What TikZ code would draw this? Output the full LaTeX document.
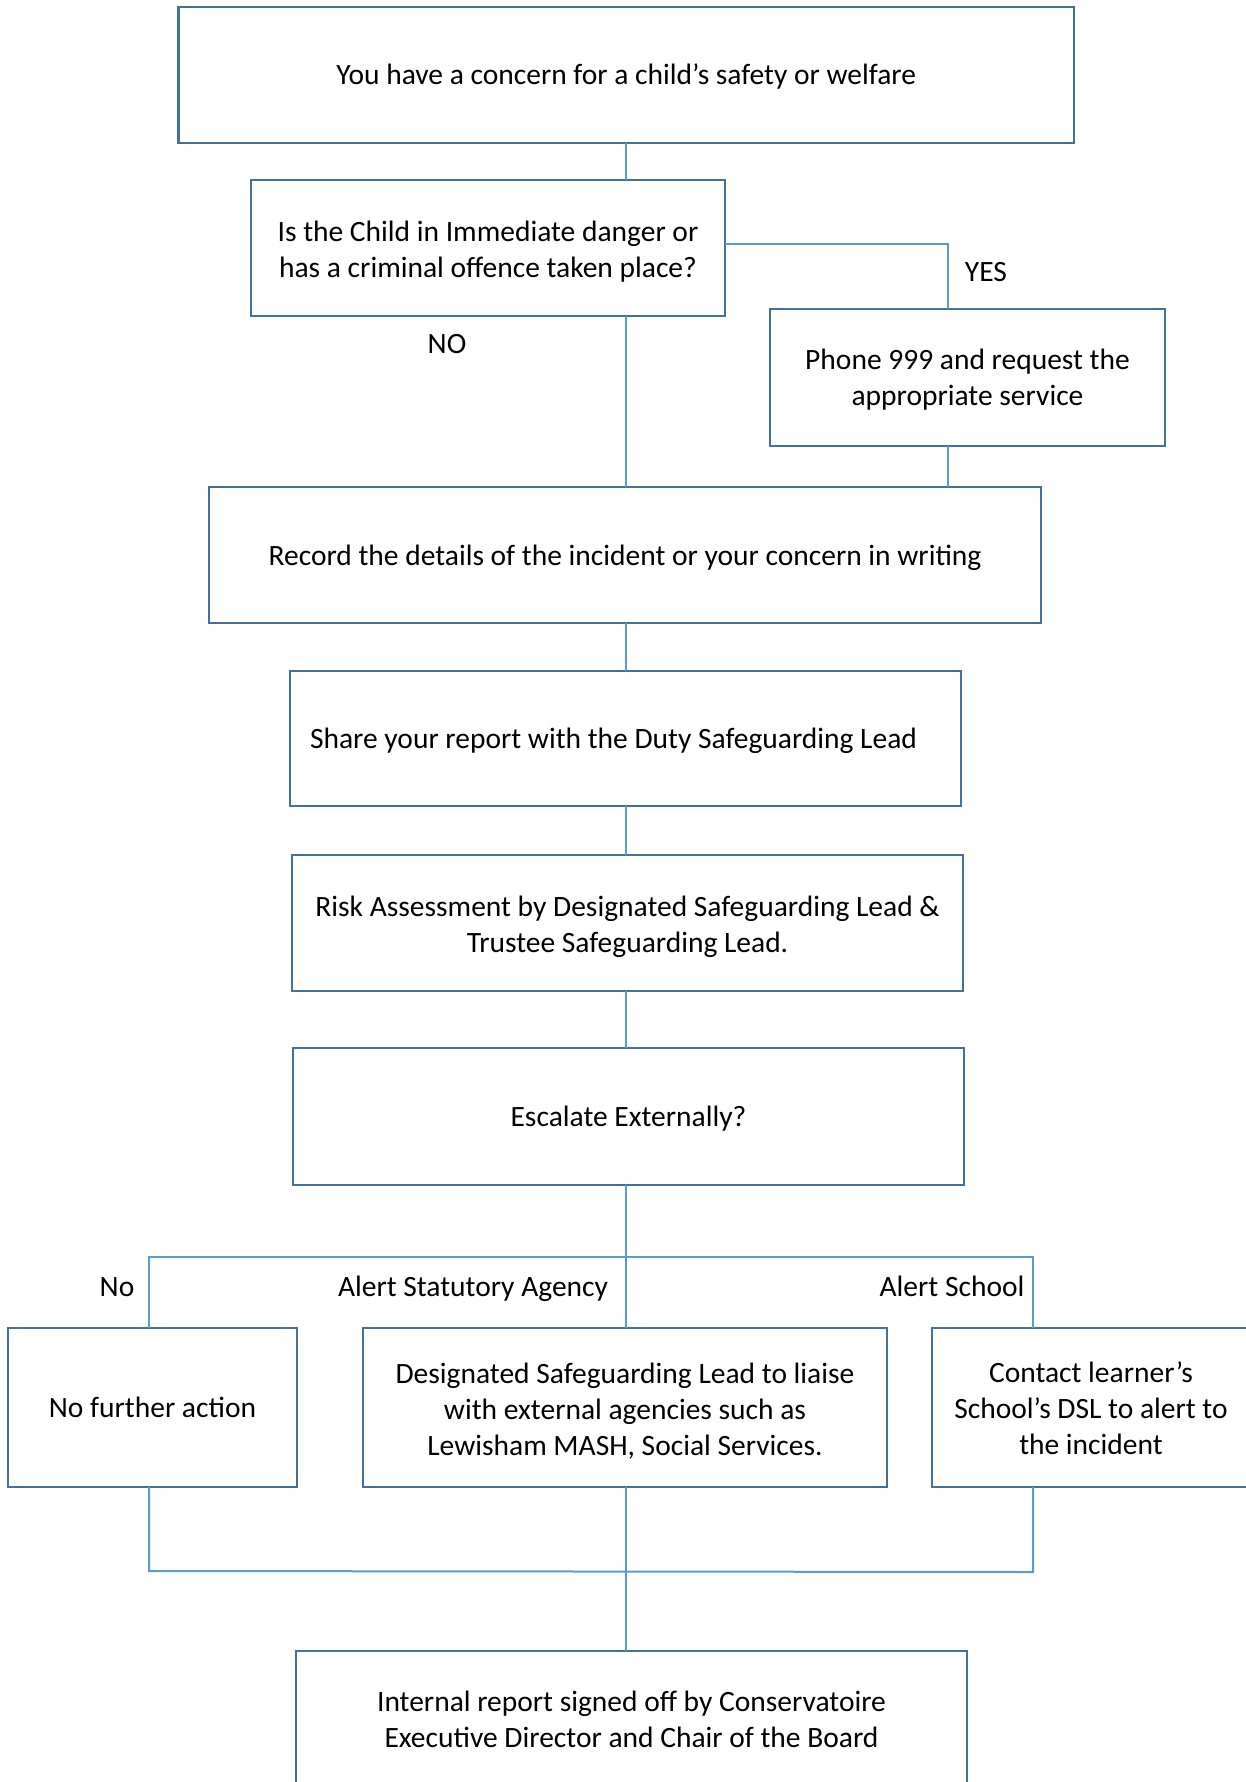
\documentclass[tikz,border=0pt]{standalone}
\usepackage{fontspec}
\setmainfont{Carlito}
\definecolor{boxblue}{HTML}{41719C}
\definecolor{linkblue}{HTML}{5B9BD5}
\newcommand{\flowfont}{\fontsize{29.5}{36}\selectfont}
\begin{document}
\begin{tikzpicture}[x=1pt,y=-1pt,
  box/.style={draw=boxblue, line width=2.5pt, inner sep=0pt, outer sep=0pt, align=center, font=\flowfont},
  lowtext/.style={execute at begin node={\rule{0pt}{27pt}}, execute at end node={\rule[-7pt]{0pt}{7pt}}},
  boxtext/.style={inner sep=0pt, align=center, font=\flowfont},
  link/.style={draw=linkblue, line width=2pt},
  lbl/.style={inner sep=0pt, font=\flowfont, text height=21pt, text depth=7pt}]
\clip (0,0) rectangle (1246,1782);
\fill[white] (0,0) rectangle (1246,1782);

\node[box, lowtext, minimum width=895.5pt, minimum height=136pt] (concern) at (626.25,75) {You have a concern for a child’s safety or welfare};
\node[box, minimum width=474pt, minimum height=136pt,
  label={[boxtext, name=dangertext, yshift=-3.4pt]center:Is the Child in Immediate danger or\\has a criminal offence taken place?}] (danger) at (488,248) {};
\node[box, minimum width=395pt, minimum height=137pt,
  label={[boxtext, name=phonetext, yshift=-2.3pt]center:Phone 999 and request the\\appropriate service}] (phone) at (967.5,377.5) {};
\node[box, lowtext, minimum width=832pt, minimum height=136pt] (record) at (625,555) {Record the details of the incident or your concern in writing};
\node[box, lowtext, minimum width=671pt, minimum height=135pt, inner xsep=20pt, text width=631pt, align=flush left] (share) at (625.5,738.5) {Share your report with the Duty Safeguarding Lead};
\node[box, minimum width=671pt, minimum height=136pt,
  label={[boxtext, name=risktext, yshift=-3.4pt]center:Risk Assessment by Designated Safeguarding Lead \&\\Trustee Safeguarding Lead.}] (risk) at (627.5,923) {};
\node[box, lowtext, minimum width=671pt, minimum height=137pt] (escalate) at (628.5,1116.5) {Escalate Externally?};
\node[box, lowtext, minimum width=289pt, minimum height=159pt] (nfa) at (152.5,1407.5) {No further action};
\node[box, minimum width=524pt, minimum height=159pt,
  label={[boxtext, name=dsltext, yshift=-3.4pt]center:Designated Safeguarding Lead to liaise\\with external agencies such as\\Lewisham MASH, Social Services.}] (dsl) at (625,1407.5) {};
\node[box, minimum width=318pt, minimum height=159pt,
  label={[boxtext, name=schooltext, yshift=-1.1pt]center:Contact learner’s\\School’s DSL to alert to\\the incident}] (school) at (1091,1407.5) {};
\node[box, minimum width=671pt, minimum height=137pt] (internal) at (631.5,1719.5) {Internal report signed off by Conservatoire\\Executive Director and Chair of the Board};

\coordinate (spine) at (626,0);
\coordinate (yesc) at (948,244);
\coordinate (bl) at (149,1257);
\coordinate (br) at (1033,1257);
\coordinate (ml) at (149,1571);
\coordinate (mr) at (1033,1572);

\draw[link] (spine |- concern.south) -- (spine |- danger.north);
\draw[link] (spine |- danger.south) -- (spine |- record.north);
\draw[link] (danger.east |- yesc) -- (yesc) -- (yesc |- phone.north);
\draw[link] (yesc |- phone.south) -- (yesc |- record.north);
\draw[link] (spine |- record.south) -- (spine |- share.north);
\draw[link] (spine |- share.south) -- (spine |- risk.north);
\draw[link] (spine |- risk.south) -- (spine |- escalate.north);
\draw[link] (spine |- escalate.south) -- (spine |- bl);
\draw[link] (bl |- nfa.north) -- (bl) -- (br) -- (br |- school.north);
\draw[link] (spine |- bl) -- (spine |- dsl.north);
\draw[link] (bl |- nfa.south) -- (ml) -- (mr) -- (br |- school.south);
\draw[link] (spine |- dsl.south) -- (spine |- internal.north);

\node[lbl] (yes) at (986,274) {YES};
\node[lbl] (no) at (447,346) {NO};
\node[lbl] (nolbl) at (117,1289.5) {No};
\node[lbl] (agency) at (473,1289.5) {Alert Statutory Agency};
\node[lbl] (alertschool) at (952,1289.5) {Alert School};
\end{tikzpicture}
\end{document}
